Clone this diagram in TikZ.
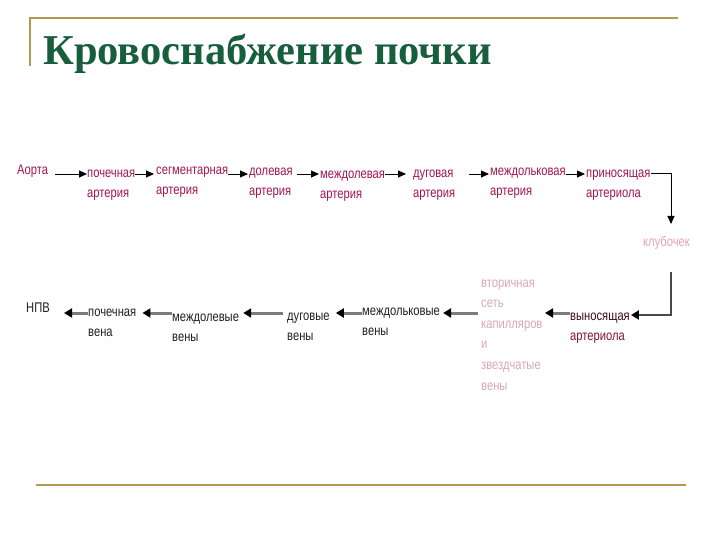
\documentclass[tikz,border=0pt]{standalone}
\usepackage{fontspec}
\usepackage{graphicx}
\setmainfont{Liberation Serif}
\newfontfamily\lsans{Liberation Sans}
\usetikzlibrary{arrows.meta}
\definecolor{frameol}{HTML}{B09A50}
\definecolor{titlegr}{HTML}{175E3C}
\definecolor{artc}{HTML}{A0154F}
\definecolor{klubc}{HTML}{E8A0B8}
\definecolor{vtorc}{HTML}{D8A8B8}
\definecolor{vynA}{HTML}{3A0A20}
\definecolor{veinc}{HTML}{202020}
\definecolor{lgray}{HTML}{7C7C7C}
\newcommand{\nar}[1]{\scalebox{0.8}[1]{#1}}
\newcommand{\twol}[2]{\nar{\begin{tabular}[t]{@{}l@{}}#1\\#2\end{tabular}}}
\tikzset{
  lbl/.style={anchor=base west, inner sep=0pt, font=\lsans\fontsize{14}{20}\selectfont},
  art/.style={lbl, text=artc},
  vein/.style={lbl, text=veinc},
  arrA/.style={draw=black, line width=0.9pt, -{Triangle[length=8pt,width=7pt]}},
  arrV/.style={draw=lgray, line width=3pt, -{Triangle[length=8pt,width=9pt,color=black]}},
  frame/.style={draw=frameol, line width=2pt}
}
\begin{document}
\begin{tikzpicture}[x=1pt,y=-1pt]
\useasboundingbox (0,0) rectangle (720,540);
% frame
\draw[frame] (30,66) -- (30,18) -- (678,18);
\draw[frame] (36,485) -- (686,485);
% title
\node[anchor=base west, inner sep=0pt, text=titlegr, font=\bfseries\fontsize{42.5}{46}\selectfont] (title) at (43,65) {Кровоснабжение почки};
% arteries row
\renewcommand{\arraystretch}{1}
\node[art] (aorta) at (17,175) {\nar{Аорта}};
\node[art] (pochA) at (87,178) {\twol{почечная}{артерия}};
\node[art] (segm) at (156,175) {\twol{сегментарная}{артерия}};
\node[art] (dol) at (249,176) {\twol{долевая}{артерия}};
\node[art] (mzhdol) at (320,179) {\twol{междолевая}{артерия}};
\node[art] (dug) at (413,178) {\twol{дуговая}{артерия}};
\node[art] (mzhdolk) at (490,176) {\twol{междольковая}{артерия}};
\node[art] (prinos) at (586,178) {\twol{приносящая}{артериола}};
\node[lbl, text=klubc] (klub) at (643,247) {\nar{клубочек}};
% veins row
\node[vein] (npv) at (26,312) {\nar{НПВ}};
\node[vein] (pochV) at (88,316) {\twol{почечная}{вена}};
\node[vein] (mzhdolV) at (172,321) {\twol{междолевые}{вены}};
\node[vein] (dugV) at (287,320) {\twol{дуговые}{вены}};
\node[vein] (mzhdolkV) at (362,315) {\twol{междольковые}{вены}};
\node[lbl, text=vtorc, font=\lsans\fontsize{14}{20.6}\selectfont] (vtor) at (481,287) {\nar{\begin{tabular}[t]{@{}l@{}}вторичная\\сеть\\капилляров\\и\\звездчатые\\вены\end{tabular}}};
\node[lbl] (vyn) at (570,320) {\nar{\begin{tabular}[t]{@{}l@{}}\textcolor{vynA}{выносящая}\\\textcolor{artc!80!black}{артериола}\end{tabular}}};
% artery arrows
\coordinate (ya) at (0,174);
\draw[arrA, shorten <=7pt] (aorta.east |- ya) -- (pochA.west |- ya);
\draw[arrA] (pochA.east |- ya) -- ([xshift=-2pt]segm.west |- ya);
\draw[arrA] (segm.east |- ya) -- ([xshift=-1pt]dol.west |- ya);
\draw[arrA, shorten <=4pt] (dol.east |- ya) -- ([xshift=-1pt]mzhdol.west |- ya);
\draw[arrA] (mzhdol.east |- ya) -- ([xshift=-7pt]dug.west |- ya);
\draw[arrA, shorten <=14pt] (dug.east |- ya) -- ([xshift=-1pt]mzhdolk.west |- ya);
\draw[arrA] (mzhdolk.east |- ya) -- ([xshift=-1pt]prinos.west |- ya);
\coordinate (cornA) at (671,173);
\draw[arrA] (prinos.east |- cornA) -- (cornA) -- (671,224);
% efferent
\coordinate (cornB) at (671,315);
\draw[draw=lgray!60!black, line width=2.2pt, -{Triangle[length=8pt,width=9pt,color=black]}] (671,272) -- (cornB) -- ([xshift=1pt]vyn.east |- cornB);
% vein arrows
\coordinate (yv) at (0,313);
\draw[arrV] (vyn.west |- yv) -- (545,313);
\draw[arrV] ([xshift=-3pt]vtor.west |- yv) -- ([xshift=3pt]mzhdolkV.east |- yv);
\draw[arrV] (mzhdolkV.west |- yv) -- ([xshift=6pt]dugV.east |- yv);
\draw[arrV] ([xshift=-4pt]dugV.west |- yv) -- ([xshift=4pt]mzhdolV.east |- yv);
\draw[arrV] (mzhdolV.west |- yv) -- ([xshift=6pt]pochV.east |- yv);
\draw[arrV] (pochV.west |- yv) -- ([xshift=14pt]npv.east |- yv);
\end{tikzpicture}
\end{document}
